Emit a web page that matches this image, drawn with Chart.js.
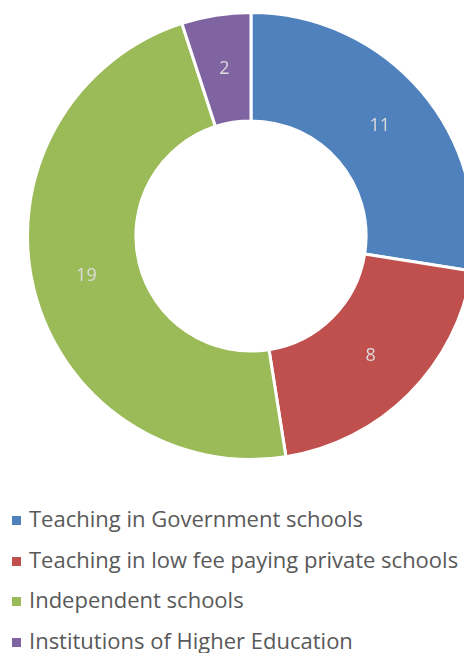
<!DOCTYPE html>
<html>
<head>
  <title>Doughnut</title>
  <script src="https://cdn.jsdelivr.net/npm/chart.js"></script>
  <style>
    html, body {
      margin: 0;
      width: 464px;
      height: 653px;
      overflow: hidden;
      background: #ffffff;
      font-family: "Open Sans", Arial, sans-serif;
    }
    #chart {
      position: absolute;
      left: 26px;
      top: 11px;
    }
    #legend {
      position: absolute;
      left: 12px;
      top: 498px;
    }
    .item {
      height: 40.5px;
      line-height: 40px;
      font-size: 22px;
      color: #595959;
      white-space: nowrap;
    }
    .box {
      display: inline-block;
      width: 9px;
      height: 9px;
      margin-right: 8px;
      vertical-align: 2px;
    }
  </style>
</head>
<body>
  <canvas id="chart" width="450" height="450"></canvas>
  <div id="legend"></div>

  <script>
    const labels = [
      'Teaching in Government schools',
      'Teaching in low fee paying private schools',
      'Independent schools',
      'Institutions of Higher Education'
    ];
    const values = [11, 8, 19, 2];
    const colors = ['#4f81bd', '#c0504d', '#9bbb59', '#8064a2'];

    // value labels in the middle of each slice
    const sliceLabels = {
      id: 'sliceLabels',
      afterDatasetsDraw(chart) {
        const ctx = chart.ctx;
        ctx.save();
        ctx.font = '18px "Open Sans", Arial, sans-serif';
        ctx.fillStyle = '#dcdcdc';
        ctx.textAlign = 'center';
        ctx.textBaseline = 'middle';
        chart.getDatasetMeta(0).data.forEach((arc, i) => {
          const p = arc.tooltipPosition();
          ctx.fillText(values[i], p.x, p.y);
        });
        ctx.restore();
      }
    };

    new Chart(document.getElementById('chart'), {
      type: 'doughnut',
      data: {
        labels: labels,
        datasets: [{
          data: values,
          backgroundColor: colors,
          borderColor: '#ffffff',
          borderWidth: 3
        }]
      },
      options: {
        responsive: false,
        animation: false,
        cutout: '51.5%',
        plugins: {
          legend: { display: false },
          tooltip: { enabled: false }
        }
      },
      plugins: [sliceLabels]
    });

    const legend = document.getElementById('legend');
    labels.forEach((name, i) => {
      const row = document.createElement('div');
      row.className = 'item';
      row.innerHTML = `<span class="box" style="background:${colors[i]}"></span>${name}`;
      legend.appendChild(row);
    });
  </script>
</body>
</html>
